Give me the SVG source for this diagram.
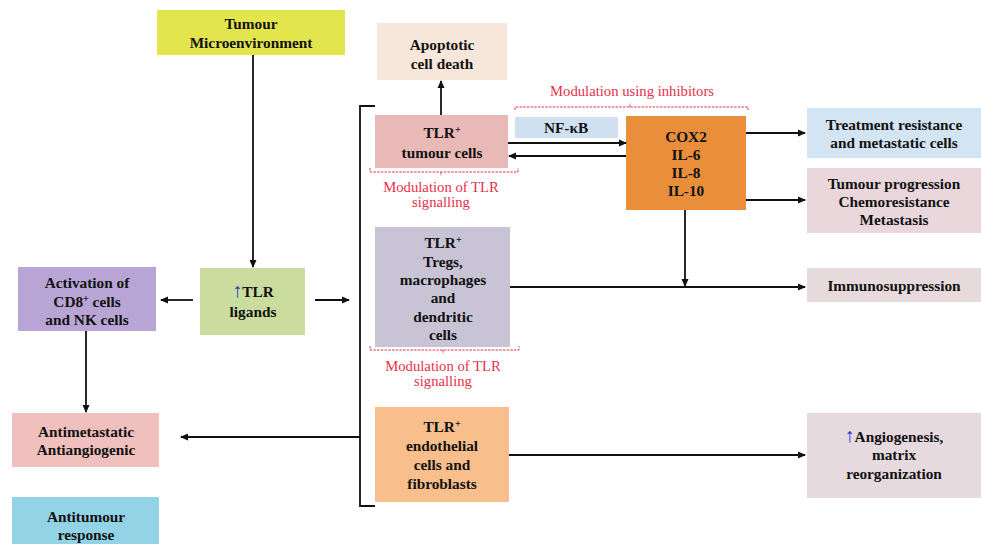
<svg xmlns="http://www.w3.org/2000/svg" width="981" height="544" viewBox="0 0 981 544">
<style>
.t{font-family:"Liberation Serif","Times New Roman",serif;font-weight:bold;font-size:15.3px;fill:#111;text-anchor:middle}
.r{font-family:"Liberation Serif","Times New Roman",serif;font-size:14.7px;fill:#e8304a;text-anchor:middle}
.ln{stroke:#111;stroke-width:1.8;fill:none}
.ar{stroke:#111;stroke-width:1.8;fill:none;marker-end:url(#ah)}
.dash{stroke:#e8304a;stroke-width:1;stroke-dasharray:2.5,1.2;fill:none}
.up{fill:#2233dd;font-size:20px}
</style>
<defs>
<marker id="ah" markerWidth="8" markerHeight="8" refX="7" refY="4" orient="auto" markerUnits="userSpaceOnUse">
<path d="M0,0.5 L8,4 L0,7.5 Z" fill="#111"/>
</marker>
</defs>
<rect width="981" height="544" fill="#ffffff"/>

<g id="tumour-microenvironment">
<rect x="157" y="10" width="188" height="45" fill="#e3e54d"/>
<text class="t" x="251" y="29">Tumour</text>
<text class="t" x="251" y="48">Microenvironment</text>
</g>

<g id="apoptotic">
<rect x="377" y="23" width="130" height="57" fill="#f7e6da"/>
<text class="t" x="442" y="50">Apoptotic</text>
<text class="t" x="442" y="69">cell death</text>
</g>

<g id="tlr-tumour-cells">
<rect x="375" y="115" width="133" height="53" fill="#e9b9b7"/>
<text class="t" x="442" y="138">TLR<tspan font-size="10" dy="-5">+</tspan></text>
<text class="t" x="442" y="158">tumour cells</text>
</g>

<g id="nfkb">
<rect x="515" y="117" width="103" height="21" fill="#cfe0f0"/>
<text class="t" x="566" y="133">NF-κB</text>
</g>

<g id="cox2">
<rect x="626" y="116" width="120" height="94" fill="#e98e3b"/>
<text class="t" x="686" y="142">COX2</text>
<text class="t" x="686" y="160">IL-6</text>
<text class="t" x="686" y="178">IL-8</text>
<text class="t" x="686" y="196">IL-10</text>
</g>

<g id="treatment-resistance">
<rect x="807" y="108" width="174" height="50" fill="#d3e4f2"/>
<text class="t" x="894" y="130">Treatment resistance</text>
<text class="t" x="894" y="148">and metastatic cells</text>
</g>

<g id="tumour-progression">
<rect x="807" y="168" width="174" height="65" fill="#e9d7dc"/>
<text class="t" x="894" y="189">Tumour progression</text>
<text class="t" x="894" y="207">Chemoresistance</text>
<text class="t" x="894" y="225">Metastasis</text>
</g>

<g id="immunosuppression">
<rect x="807" y="268" width="174" height="34" fill="#e7dadd"/>
<text class="t" x="894" y="291">Immunosuppression</text>
</g>

<g id="angiogenesis">
<rect x="807" y="413" width="174" height="85" fill="#e6dadf"/>
<text class="t" x="894" y="442"><tspan class="up">↑</tspan>Angiogenesis,</text>
<text class="t" x="894" y="460">matrix</text>
<text class="t" x="894" y="479">reorganization</text>
</g>

<g id="tlr-tregs">
<rect x="375" y="227" width="135" height="120" fill="#c8c4d6"/>
<text class="t" x="443" y="248">TLR<tspan font-size="10" dy="-5">+</tspan></text>
<text class="t" x="443" y="267">Tregs,</text>
<text class="t" x="443" y="285">macrophages</text>
<text class="t" x="443" y="303">and</text>
<text class="t" x="443" y="322">dendritic</text>
<text class="t" x="443" y="340">cells</text>
</g>

<g id="tlr-endothelial">
<rect x="375" y="407" width="134" height="95" fill="#f8bf8c"/>
<text class="t" x="442" y="432">TLR<tspan font-size="10" dy="-5">+</tspan></text>
<text class="t" x="442" y="451">endothelial</text>
<text class="t" x="442" y="470">cells and</text>
<text class="t" x="442" y="489">fibroblasts</text>
</g>

<g id="tlr-ligands">
<rect x="200" y="268" width="105" height="67" fill="#cadc9e"/>
<text class="t" x="253" y="297"><tspan class="up">↑</tspan>TLR</text>
<text class="t" x="253" y="317">ligands</text>
</g>

<g id="activation">
<rect x="18" y="267" width="138" height="64" fill="#b8a5d5"/>
<text class="t" x="87" y="288">Activation of</text>
<text class="t" x="87" y="307">CD8<tspan font-size="10" dy="-5">+</tspan><tspan dy="5"> cells</tspan></text>
<text class="t" x="87" y="325">and NK cells</text>
</g>

<g id="antimetastatic">
<rect x="12" y="413" width="147" height="54" fill="#efc0bd"/>
<text class="t" x="86" y="437">Antimetastatic</text>
<text class="t" x="86" y="455">Antiangiogenic</text>
</g>

<g id="antitumour">
<rect x="12" y="497" width="147" height="50" fill="#93d3e6"/>
<text class="t" x="86" y="522">Antitumour</text>
<text class="t" x="86" y="540">response</text>
</g>

<g id="modulation-labels">
<path class="dash" d="M515,110 V107 H748 V110 M630,107 V103"/>
<text class="r" x="632" y="96">Modulation using inhibitors</text>
<path class="dash" d="M370,168 V172 H518 V168 M441,172 V176"/>
<text class="r" x="441" y="192">Modulation of TLR</text>
<text class="r" x="441" y="207">signalling</text>
<path class="dash" d="M370,346 V350 H519 V346 M443,350 V354"/>
<text class="r" x="443" y="371">Modulation of TLR</text>
<text class="r" x="443" y="386">signalling</text>
</g>

<g id="connectors">
<line class="ar" x1="253" y1="55" x2="253" y2="267"/>
<line class="ar" x1="193" y1="300" x2="161" y2="300"/>
<line class="ar" x1="315" y1="300" x2="349" y2="300"/>
<line class="ar" x1="86" y1="331" x2="86" y2="412"/>
<line class="ar" x1="360" y1="437" x2="181" y2="437"/>
<path class="ln" d="M375,106 H360 V506 H375"/>
<line class="ar" x1="441" y1="115" x2="441" y2="81"/>
<line class="ar" x1="508" y1="143" x2="626" y2="143"/>
<line class="ar" x1="626" y1="156" x2="509" y2="156"/>
<line class="ar" x1="746" y1="133" x2="805" y2="133"/>
<line class="ar" x1="746" y1="200" x2="805" y2="200"/>
<line class="ar" x1="685" y1="210" x2="685" y2="286"/>
<line class="ar" x1="510" y1="287" x2="805" y2="287"/>
<line class="ar" x1="509" y1="455" x2="805" y2="455"/>
</g>
</svg>
